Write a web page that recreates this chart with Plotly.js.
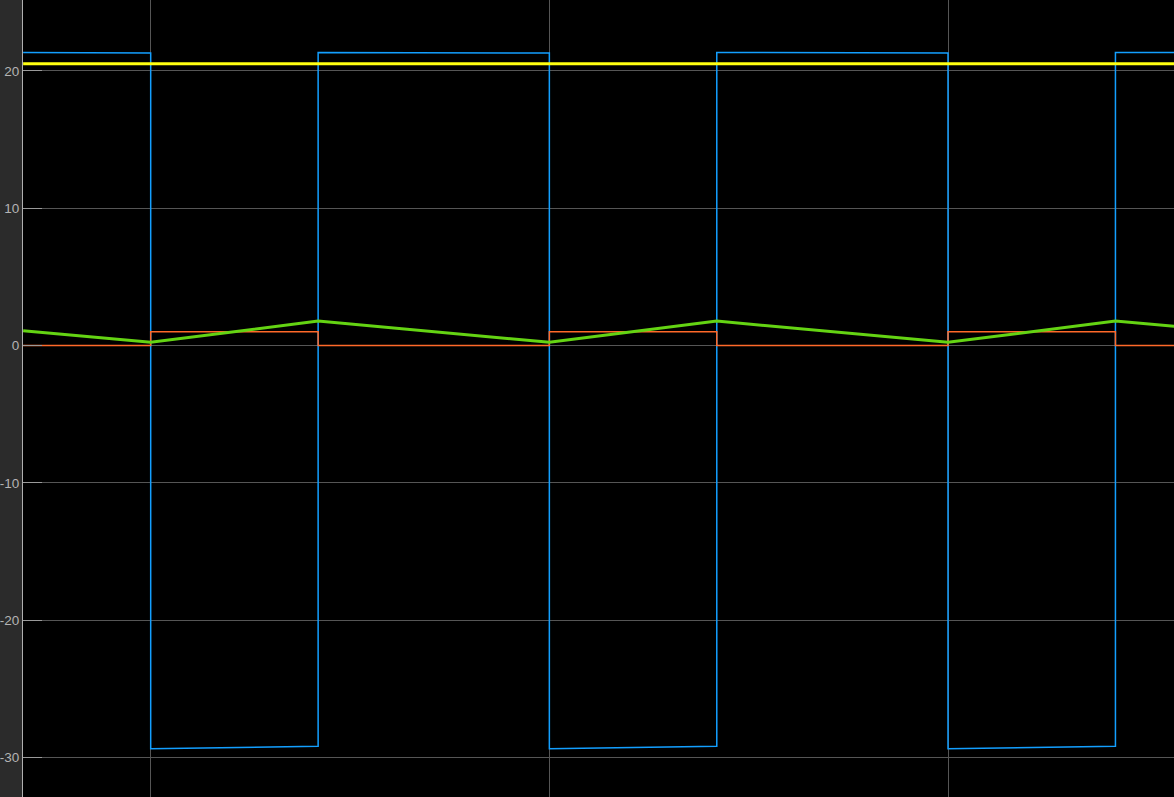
<!DOCTYPE html>
<html>
<head>
<meta charset="utf-8">
<script src="https://cdn.plot.ly/plotly-3.0.1.min.js"></script>
<style>
html,body{margin:0;padding:0;background:#2b2b2b;}
#chart{width:1174px;height:797px;}
</style>
</head>
<body>
<div id="chart"></div>
<script>
// Time axis in units of the vertical gridline spacing
const switchT = [0.68, 1, 1, 1.42, 1.42, 2, 2, 2.42, 2.42, 3, 3, 3.42, 3.42, 3.57];
const blueV   = [21.35, 21.31, -29.37, -29.2, 21.35, 21.31, -29.37, -29.2, 21.35, 21.31, -29.37, -29.2, 21.35, 21.34];
const redV    = [0, 0, 1, 1, 0, 0, 1, 1, 0, 0, 1, 1, 0, 0];
const greenT  = [0.68, 1, 1.42, 2, 2.42, 3, 3.42, 3.57];
const greenV  = [1.08, 0.23, 1.78, 0.23, 1.78, 0.23, 1.78, 1.39];
const yellowT = [0.68, 3.57];
const yellowV = [20.53, 20.52];
const yTicks  = [-30, -20, -10, 0, 10, 20];

const traces = [
  {x: switchT, y: blueV, mode: 'lines', line: {color: '#139FFF', width: 1.5}, hoverinfo: 'skip'},
  {x: switchT, y: redV, mode: 'lines', line: {color: '#FF6929', width: 1.5}, hoverinfo: 'skip'},
  {x: greenT, y: greenV, mode: 'lines', line: {color: '#64D413', width: 3}, hoverinfo: 'skip'},
  {x: yellowT, y: yellowV, mode: 'lines', line: {color: '#FFFF11', width: 3}, hoverinfo: 'skip'}
];

const layout = {
  width: 1174, height: 797,
  margin: {l: 23, r: 0, t: 0, b: 0, pad: 0},
  paper_bgcolor: '#2b2b2b',
  plot_bgcolor: '#000000',
  showlegend: false,
  xaxis: {
    range: [0.6797, 3.5669],
    tickvals: [1, 2, 3],
    showticklabels: false,
    showgrid: true, gridcolor: '#555555', gridwidth: 1,
    zeroline: false, showline: false, ticks: ''
  },
  yaxis: {
    range: [-32.89, 25.17],
    tickvals: yTicks,
    ticktext: yTicks.map(String),
    showgrid: true, gridcolor: '#555555', gridwidth: 1,
    zeroline: false,
    showline: true, linecolor: '#b0b0b0', linewidth: 1,
    ticks: 'inside', ticklen: 19, tickcolor: '#9a9a9a', tickwidth: 1,
    ticklabelstandoff: 0,
    tickfont: {family: 'Liberation Sans, Arial, sans-serif', size: 13.5, color: '#b4b4b4'}
  }
};

Plotly.newPlot('chart', traces, layout, {displayModeBar: false, staticPlot: true});
</script>
</body>
</html>
